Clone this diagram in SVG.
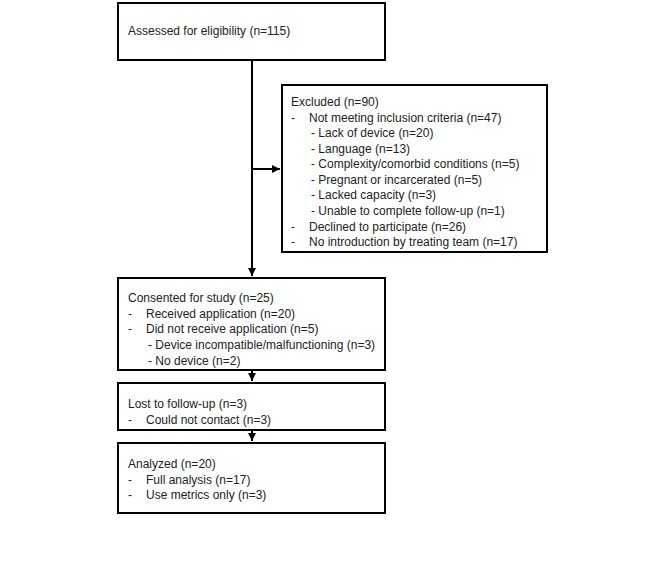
<svg xmlns="http://www.w3.org/2000/svg" width="666" height="569" viewBox="0 0 666 569">
<style>
text{font-family:"Liberation Sans",Arial,sans-serif;font-size:12px;fill:#222}
.b{fill:#fff;stroke:#000;stroke-width:2}
.c{stroke:#000;stroke-width:2;fill:none}
</style>
<defs><marker id="a" viewBox="0 0 10 10" refX="10" refY="5" markerWidth="4" markerHeight="4" orient="auto"><path d="M0,0L10,5L0,10z" fill="#000"/></marker></defs>
<rect width="666" height="569" fill="#fff"/>
<g id="connectors">
<path class="c" d="M252,60V276" marker-end="url(#a)"/>
<path class="c" d="M252,169H280" marker-end="url(#a)"/>
<path class="c" d="M252,370V381" marker-end="url(#a)"/>
<path class="c" d="M252,430V441" marker-end="url(#a)"/>
</g>
<g id="n1"><rect class="b" x="118" y="3" width="267" height="57"/><text x="128" y="35">Assessed for eligibility (n=115)</text></g>
<g id="n2"><rect class="b" x="282" y="85" width="265" height="167" stroke-width="3"/>
<text x="291" y="106">Excluded (n=90)</text>
<text x="291" y="122">-</text><text x="309" y="122">Not meeting inclusion criteria (n=47)</text>
<text x="311" y="137">- Lack of device (n=20)</text>
<text x="311" y="153">- Language (n=13)</text>
<text x="311" y="168">- Complexity/comorbid conditions (n=5)</text>
<text x="311" y="184">- Pregnant or incarcerated (n=5)</text>
<text x="311" y="199">- Lacked capacity (n=3)</text>
<text x="311" y="215">- Unable to complete follow-up (n=1)</text>
<text x="291" y="231">-</text><text x="309" y="231">Declined to participate (n=26)</text>
<text x="291" y="246">-</text><text x="309" y="246">No introduction by treating team (n=17)</text>
</g>
<g id="n3"><rect class="b" x="118" y="278" width="267" height="92"/>
<text x="128" y="302">Consented for study (n=25)</text>
<text x="128" y="318">-</text><text x="146" y="318">Received application (n=20)</text>
<text x="128" y="333">-</text><text x="146" y="333">Did not receive application (n=5)</text>
<text x="148" y="349">- Device incompatible/malfunctioning  (n=3)</text>
<text x="148" y="365">- No device (n=2)</text>
</g>
<g id="n4"><rect class="b" x="118" y="383" width="267" height="47"/>
<text x="128" y="408">Lost to follow-up (n=3)</text>
<text x="128" y="424">-</text><text x="146" y="424">Could not contact (n=3)</text>
</g>
<g id="n5"><rect class="b" x="118" y="443" width="267" height="70"/>
<text x="128" y="468">Analyzed (n=20)</text>
<text x="128" y="484">-</text><text x="146" y="484">Full analysis (n=17)</text>
<text x="128" y="499">-</text><text x="146" y="499">Use metrics only (n=3)</text>
</g>
</svg>
